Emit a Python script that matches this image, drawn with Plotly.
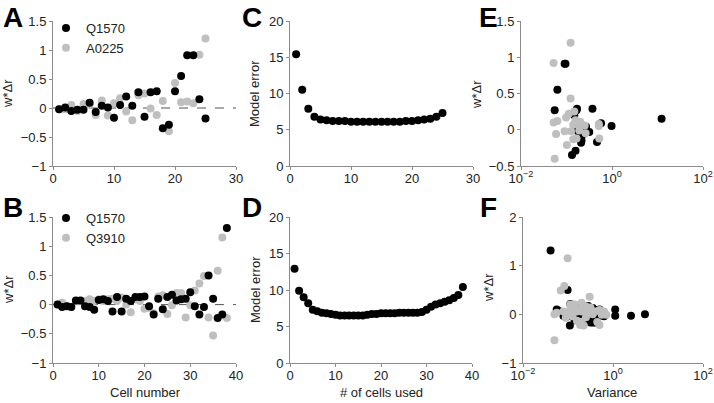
import plotly.graph_objects as go

# ---- data ----
cells_a = list(range(1, 26))
q1570_a = [-0.02, 0.01, -0.05, -0.03, -0.03, 0.09, -0.07, 0.04, 0.01, -0.17, 0.05, 0.2, 0.04,
           0.27, -0.15, 0.27, 0.29, -0.35, -0.29, 0.29, 0.55, 0.91, 0.91, 0.15, -0.18]
a0225_a = [-0.02, -0.02, 0.05, -0.05, 0.07, 0.06, -0.12, 0.13, -0.13, 0.08, 0.17, -0.06, -0.21,
           0.22, 0.25, -0.01, -0.12, 0.12, -0.4, 0.43, 0.1, 0.11, 0.08, 0.92, 1.2]

cells_b = list(range(1, 39))
q1570_b = [0.0, -0.04, -0.03, -0.04, 0.07, 0.07, -0.03, -0.04, -0.09, 0.08, 0.09, 0.06, -0.12,
           0.13, -0.12, 0.1, 0.06, 0.13, 0.13, 0.14, -0.03, -0.17, 0.1, -0.08, 0.13, 0.17, 0.07,
           0.09, 0.1, 0.21, -0.03, -0.17, -0.04, 0.5, 0.1, -0.23, -0.17, 1.31]
q3910_b = [0.0, 0.03, -0.02, -0.04, 0.06, 0.06, 0.06, 0.09, 0.06, 0.09, 0.06, 0.09, 0.1, 0.06,
           0.12, 0.0, -0.13, 0.09, 0.06, -0.07, -0.06, -0.15, 0.14, 0.16, -0.16, -0.01, 0.2, 0.2,
           -0.22, -0.01, 0.24, 0.36, 0.49, -0.22, -0.53, 0.58, 1.15, -0.23]

err_c = [15.4, 10.5, 7.9, 6.8, 6.4, 6.3, 6.2, 6.2, 6.2, 6.1, 6.1, 6.1, 6.1, 6.1, 6.1, 6.1, 6.1,
         6.1, 6.2, 6.2, 6.3, 6.4, 6.5, 6.8, 7.3]
err_d = [12.9, 9.9, 9.0, 8.2, 7.3, 7.1, 6.9, 6.8, 6.7, 6.6, 6.5, 6.5, 6.5, 6.5, 6.5, 6.5, 6.6,
         6.7, 6.7, 6.8, 6.8, 6.8, 6.8, 6.9, 6.9, 6.9, 6.9, 6.9, 7.0, 7.3, 7.7, 8.0, 8.2, 8.4,
         8.6, 8.9, 9.3, 10.4]

var_q1570_a = [0.178, 0.17, 0.195, 0.282, 0.316, 0.575, 0.224, 0.2, 0.251, 0.468, 0.977, 0.148,
               0.269, 0.055, 0.214, 0.166, 0.17, 0.132, 0.158, 0.372, 0.063, 0.091, 0.095, 12.3,
               0.209]
var_a0225_a = [0.091, 0.126, 0.513, 0.263, 0.141, 0.251, 0.525, 0.158, 0.141, 0.178, 0.098,
               0.059, 0.102, 0.112, 0.148, 0.191, 0.166, 0.063, 0.055, 0.123, 0.052, 0.2, 0.513,
               0.052, 0.123]
var_q1570_b = [5.13, 0.1, 2.51, 0.316, 0.063, 0.398, 1.12, 0.178, 0.2, 0.316, 0.251, 0.224,
               0.251, 0.158, 0.141, 1.12, 0.562, 0.251, 0.2, 0.126, 0.501, 0.316, 0.056, 0.355,
               0.355, 0.282, 0.112, 0.447, 0.501, 0.112, 0.079, 0.355, 0.631, 0.098, 0.141, 0.11,
               0.398, 0.041]
var_q3910_b = [0.05, 0.056, 0.1, 0.126, 0.158, 0.079, 0.2, 0.251, 0.316, 0.141, 0.398, 0.112,
               0.178, 0.282, 0.224, 0.355, 0.158, 0.501, 0.631, 0.089, 0.251, 0.2, 0.316, 0.251,
               0.447, 0.562, 0.112, 0.141, 0.501, 0.708, 0.2, 0.302, 0.069, 0.186, 0.05, 0.083,
               0.098, 0.224]

log_ticks = [0.01, 1, 100]
log_labels = ["10<sup>−2</sup>", "10<sup>0</sup>", "10<sup>2</sup>"]

BLACK = "#000000"
GRAY = "#bfbfbf"
AXIS = "#8c8c8c"
FONT = "Liberation Sans, Arial, sans-serif"
W, H = 714, 403


def px_x(a, b):
    return [a / W, b / W]


def px_y(top, bottom):
    return [1 - bottom / H, 1 - top / H]


fig = go.Figure()


def dots(x, y, color, xa, ya, name=None, legend=None, size=8):
    fig.add_trace(go.Scatter(
        x=x, y=y, mode="markers", name=name, xaxis=xa, yaxis=ya,
        marker=dict(color=color, size=size, line=dict(width=0)),
        showlegend=legend is not None, legend=legend or "legend",
    ))


# A
dots(cells_a, a0225_a, GRAY, "x", "y", "A0225", "legend")
dots(cells_a, q1570_a, BLACK, "x", "y", "Q1570", "legend")
# B
dots(cells_b, q3910_b, GRAY, "x2", "y2", "Q3910", "legend2")
dots(cells_b, q1570_b, BLACK, "x2", "y2", "Q1570", "legend2")
# C, D
dots(cells_a, err_c, BLACK, "x3", "y3")
dots(cells_b, err_d, BLACK, "x4", "y4")
# E, F
dots(var_q1570_a, q1570_a, BLACK, "x5", "y5")
dots(var_a0225_a, a0225_a, GRAY, "x5", "y5")
dots(var_q1570_b, q1570_b, BLACK, "x6", "y6")
dots(var_q3910_b, q3910_b, GRAY, "x6", "y6")

# dashed zero lines in A and B
for xa, ya, xmax in [("x", "y", 30), ("x2", "y2", 40)]:
    fig.add_shape(type="line", xref=xa, yref=ya, x0=0, x1=xmax, y0=0, y1=0,
                  line=dict(color="#555555", width=1, dash="dash"), layer="below")

axis_style = dict(showline=True, linecolor=AXIS, linewidth=1, ticks="outside",
                  ticklen=3, tickcolor=AXIS, showgrid=False, zeroline=False,
                  automargin=False,
                  tickfont=dict(size=13, color="#222222", family=FONT))
x_style = dict(axis_style, ticklabelstandoff=-3)

top = px_y(21, 166)
bot = px_y(217, 363)

legend_style = dict(xanchor="left", yanchor="top", bgcolor="rgba(0,0,0,0)",
                    font=dict(size=13, color="#222222", family=FONT),
                    itemwidth=30, tracegroupgap=0, traceorder="reversed")

fig.update_layout(
    width=W, height=H, margin=dict(l=0, r=0, t=0, b=0),
    paper_bgcolor="white", plot_bgcolor="white",
    font=dict(family=FONT, size=13, color="#222222"),
    xaxis=dict(domain=px_x(53, 236), range=[0, 30], dtick=10, anchor="y", **x_style),
    yaxis=dict(domain=top, range=[-1, 1.5], dtick=0.5, anchor="x", **axis_style),
    xaxis2=dict(domain=px_x(53, 236), range=[0, 40], dtick=10, anchor="y2", **x_style),
    yaxis2=dict(domain=bot, range=[-1, 1.5], dtick=0.5, anchor="x2", **axis_style),
    xaxis3=dict(domain=px_x(290, 473), range=[0, 30], dtick=10, anchor="y3", **x_style),
    yaxis3=dict(domain=top, range=[0, 20], dtick=5, anchor="x3", **axis_style),
    xaxis4=dict(domain=px_x(290, 472), range=[0, 40], dtick=10, anchor="y4", **x_style),
    yaxis4=dict(domain=bot, range=[0, 20], dtick=5, anchor="x4", **axis_style),
    xaxis5=dict(domain=px_x(521, 703), type="log", range=[-2, 2], tickvals=log_ticks,
                ticktext=log_labels, anchor="y5", **x_style),
    yaxis5=dict(domain=top, range=[-0.5, 1.5], dtick=0.5, anchor="x5", **axis_style),
    xaxis6=dict(domain=px_x(523, 703), type="log", range=[-2, 2], tickvals=log_ticks,
                ticktext=log_labels, anchor="y6", **x_style),
    yaxis6=dict(domain=bot, range=[-1, 2], dtick=1, anchor="x6", **axis_style),
    legend=dict(x=46 / W, y=1 - 13 / H, **legend_style),
    legend2=dict(x=46 / W, y=1 - 203 / H, **legend_style),
)

# panel letters
for letter, x, y in [("A", 13, 0), ("B", 13, 190), ("C", 252, 0), ("D", 252, 190),
                     ("E", 488, 0), ("F", 488, 190)]:
    fig.add_annotation(text=letter, xref="paper", yref="paper", x=x / W, y=1 - y / H,
                       showarrow=False, xanchor="center", yanchor="top",
                       font=dict(size=28, family=FONT, color="black", weight="bold"))

# y titles
for text, x, y in [("w*Δr", 8, 94), ("w*Δr", 8, 290), ("Model error", 255, 94),
                   ("Model error", 255, 290), ("w*Δr", 476, 95), ("w*Δr", 488, 288)]:
    fig.add_annotation(text=text, xref="paper", yref="paper", x=x / W, y=1 - y / H,
                       showarrow=False, textangle=-90, xanchor="center", yanchor="middle",
                       font=dict(size=13, family=FONT, color="#222222"))

# x titles
for text, x in [("Cell number", 145), ("# of cells used", 381), ("Variance", 612)]:
    fig.add_annotation(text=text, xref="paper", yref="paper", x=x / W, y=1 - 392 / H,
                       showarrow=False, xanchor="center", yanchor="middle",
                       font=dict(size=13, family=FONT, color="#222222"))

# drop the page's default body margin so the figure sits at the window's corner
fig.write_html("out.html", config={"displayModeBar": False},
               post_script="document.body.style.margin='0';")
